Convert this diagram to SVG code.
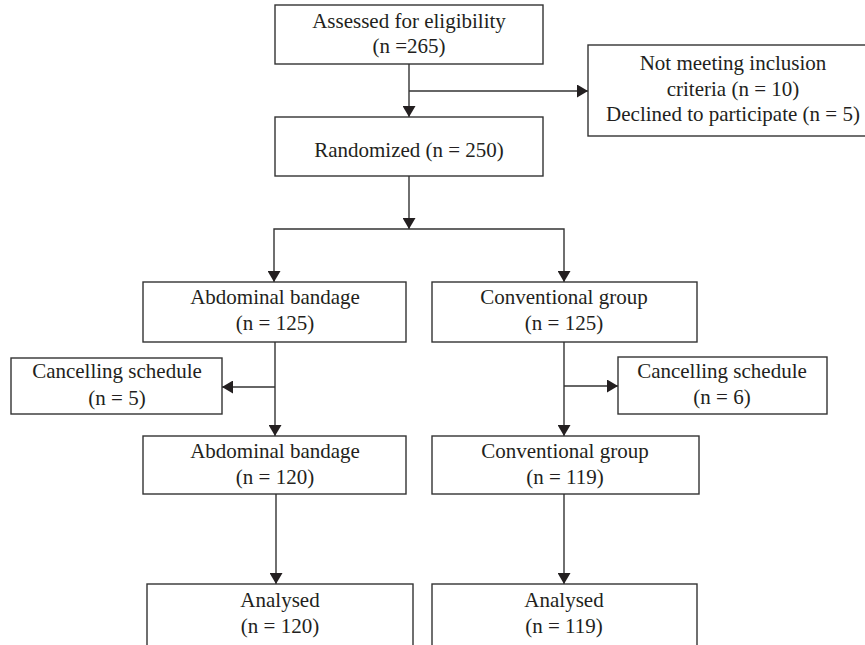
<svg xmlns="http://www.w3.org/2000/svg" width="865" height="645" viewBox="0 0 865 645">
<defs>
<style>
.box{fill:#fff;stroke:#333;stroke-width:1.4}
.t{font-family:"Liberation Serif","Times New Roman",serif;font-size:21px;fill:#231f20;text-anchor:middle}
.c{fill:none;stroke:#333;stroke-width:1.4}
</style>
<marker id="ah" markerUnits="userSpaceOnUse" markerWidth="12" markerHeight="13" refX="11" refY="6.5" orient="auto">
<path d="M0,0 L11,6.5 L0,13 z" fill="#231f20"/>
</marker>
</defs>
<rect width="865" height="645" fill="#fff"/>
<g id="connectors">
<path class="c" d="M409,64 V117" marker-end="url(#ah)"/>
<path class="c" d="M409,91 H588" marker-end="url(#ah)"/>
<path class="c" d="M409,176 V229" marker-end="url(#ah)"/>
<path class="c" d="M409,229 H274 V282" marker-end="url(#ah)"/>
<path class="c" d="M409,229 H564 V282" marker-end="url(#ah)"/>
<path class="c" d="M275,342 V436" marker-end="url(#ah)"/>
<path class="c" d="M275,387 H222" marker-end="url(#ah)"/>
<path class="c" d="M564,342 V436" marker-end="url(#ah)"/>
<path class="c" d="M564,386 H618" marker-end="url(#ah)"/>
<path class="c" d="M276,494 V584" marker-end="url(#ah)"/>
<path class="c" d="M564,494 V584" marker-end="url(#ah)"/>
</g>
<g id="assessed">
<rect class="box" x="275" y="5" width="268" height="59"/>
<text class="t" x="409" y="28">Assessed for eligibility</text>
<text class="t" x="409" y="53">(n =265)</text>
</g>
<g id="excluded">
<rect class="box" x="588" y="45" width="290" height="91"/>
<text class="t" x="733" y="70">Not meeting inclusion</text>
<text class="t" x="733" y="96">criteria (n = 10)</text>
<text class="t" x="733" y="121">Declined to participate (n = 5)</text>
</g>
<g id="randomized">
<rect class="box" x="275" y="117" width="268" height="59"/>
<text class="t" x="409" y="157">Randomized (n = 250)</text>
</g>
<g id="abd1">
<rect class="box" x="143" y="282" width="263" height="60"/>
<text class="t" x="275" y="304">Abdominal bandage</text>
<text class="t" x="275" y="330">(n = 125)</text>
</g>
<g id="conv1">
<rect class="box" x="432" y="282" width="265" height="60"/>
<text class="t" x="564" y="304">Conventional group</text>
<text class="t" x="564" y="330">(n = 125)</text>
</g>
<g id="cancel-left">
<rect class="box" x="11" y="358" width="211" height="56"/>
<text class="t" x="117" y="378">Cancelling schedule</text>
<text class="t" x="117" y="405">(n = 5)</text>
</g>
<g id="cancel-right">
<rect class="box" x="618" y="357" width="209" height="57"/>
<text class="t" x="722" y="378">Cancelling schedule</text>
<text class="t" x="722" y="404">(n = 6)</text>
</g>
<g id="abd2">
<rect class="box" x="143" y="436" width="263" height="58"/>
<text class="t" x="275" y="458">Abdominal bandage</text>
<text class="t" x="275" y="484">(n = 120)</text>
</g>
<g id="conv2">
<rect class="box" x="432" y="436" width="267" height="58"/>
<text class="t" x="565" y="458">Conventional group</text>
<text class="t" x="565" y="484">(n = 119)</text>
</g>
<g id="analysed-left">
<rect class="box" x="147" y="584" width="266" height="80"/>
<text class="t" x="280" y="607">Analysed</text>
<text class="t" x="280" y="633">(n = 120)</text>
</g>
<g id="analysed-right">
<rect class="box" x="432" y="584" width="265" height="80"/>
<text class="t" x="564" y="607">Analysed</text>
<text class="t" x="564" y="633">(n = 119)</text>
</g>
</svg>
